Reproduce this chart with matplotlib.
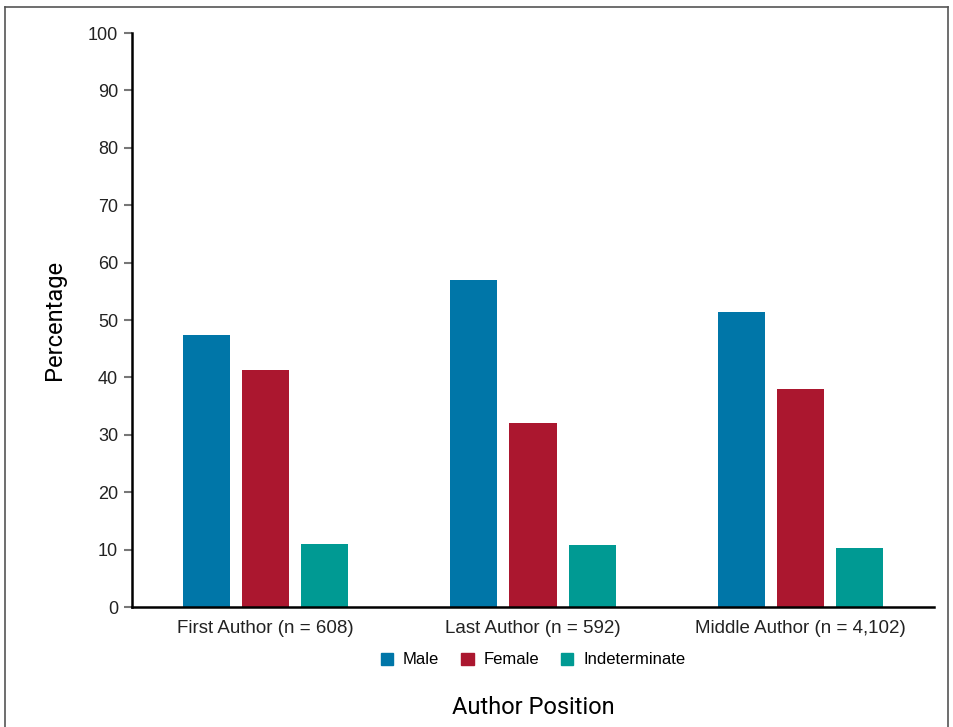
import matplotlib.pyplot as plt
import numpy as np
from matplotlib.lines import Line2D
from matplotlib.patches import Patch

plt.rcParams['font.family'] = ['Liberation Sans', 'DejaVu Sans']

# data
groups = ["First Author (n = 608)", "Last Author (n = 592)", "Middle Author (n = 4,102)"]
male = [47.4, 57.0, 51.4]
female = [41.3, 32.1, 38.0]
indeterminate = [11.0, 10.8, 10.3]
series_names = ["Male", "Female", "Indeterminate"]
colors = ["#0076a8", "#ab172f", "#009a93"]

fig = plt.figure(figsize=(9.54, 7.27), dpi=100)
ax = fig.add_axes([0.1384, 0.165, 0.8406, 0.7896])

x = np.arange(len(groups))
w = 0.176
step = 0.221
for i, (vals, c) in enumerate(zip([male, female, indeterminate], colors)):
    ax.bar(x + (i - 1) * step, vals, width=w, color=c, label=series_names[i])

ax.set_xlim(-0.5, 2.5)
ax.set_ylim(0, 100)
ax.set_yticks(range(0, 101, 10))
ax.set_xticks(x)
ax.set_xticklabels(groups, fontsize=13.5, color="#222222")
ax.tick_params(axis='x', length=0, pad=9)
ax.tick_params(axis='y', length=6, width=1.5, color="#777777", labelsize=13, labelcolor="#222222", pad=4)
for s in ["top", "right"]:
    ax.spines[s].set_visible(False)
ax.spines["left"].set_linewidth(1.8)
ax.spines["bottom"].set_linewidth(1.8)

ax.set_ylabel("Percentage", fontsize=17, family=["Roboto", "DejaVu Sans"], labelpad=16)

handles = [Patch(color=c, label=n) for c, n in zip(colors, series_names)]
fig.legend(handles=handles, loc="center", bbox_to_anchor=(533 / 954, 1 - 660 / 727),
           ncol=3, frameon=False, fontsize=12, handlelength=0.75, handleheight=0.75,
           columnspacing=1.3, handletextpad=0.6)

fig.text(533 / 954, 1 - 708 / 727, "Author Position", ha="center", va="center",
         fontsize=17, family=["Roboto", "DejaVu Sans"])

# frame around the figure (open at the bottom)
fc = "#555555"
fig.add_artist(Line2D([5 / 954, 948 / 954], [1 - 7 / 727, 1 - 7 / 727], color=fc, lw=1.2))
fig.add_artist(Line2D([5 / 954, 5 / 954], [0, 1 - 7 / 727], color=fc, lw=1.2))
fig.add_artist(Line2D([948 / 954, 948 / 954], [0, 1 - 7 / 727], color=fc, lw=1.2))

fig.savefig("out.png", dpi=100)
